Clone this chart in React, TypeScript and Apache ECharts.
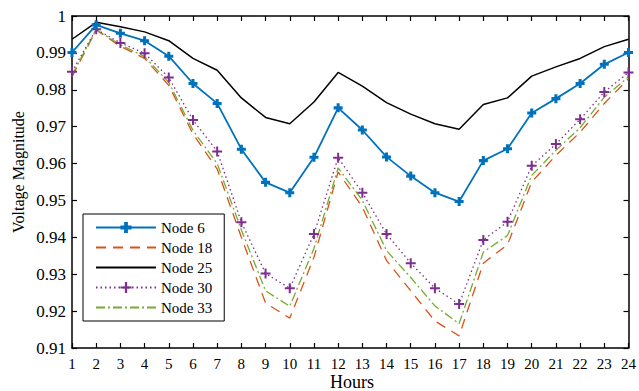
import React, { useEffect, useRef } from "react";
import * as echarts from "echarts";

const hours = [1, 2, 3, 4, 5, 6, 7, 8, 9, 10, 11, 12, 13, 14, 15, 16, 17, 18, 19, 20, 21, 22, 23, 24];
const node6 = [0.9901, 0.9976, 0.9953, 0.9933, 0.9891, 0.9817, 0.9763, 0.9639, 0.9549, 0.9521, 0.9617, 0.9751, 0.9691, 0.9618, 0.9566, 0.9521, 0.9497, 0.9608, 0.964, 0.9737, 0.9776, 0.9817, 0.9869, 0.9901];
const node18 = [0.9835, 0.9962, 0.9918, 0.9885, 0.9812, 0.968, 0.9585, 0.94, 0.9222, 0.9181, 0.9346, 0.9577, 0.9482, 0.9337, 0.9255, 0.9173, 0.9133, 0.933, 0.938, 0.955, 0.9622, 0.9685, 0.9763, 0.983];
const node25 = [0.9937, 0.9983, 0.9971, 0.9957, 0.9933, 0.9885, 0.9853, 0.9778, 0.9725, 0.9708, 0.9767, 0.9847, 0.981, 0.9765, 0.9734, 0.9708, 0.9693, 0.976, 0.9778, 0.9837, 0.9862, 0.9885, 0.9917, 0.9937];
const node30 = [0.9849, 0.9964, 0.9927, 0.9899, 0.9833, 0.9718, 0.9633, 0.9441, 0.9302, 0.9262, 0.9409, 0.9616, 0.9521, 0.9409, 0.933, 0.9262, 0.9219, 0.9393, 0.9442, 0.9594, 0.9653, 0.972, 0.9794, 0.9847];
const node33 = [0.984, 0.9963, 0.9922, 0.989, 0.982, 0.969, 0.96, 0.942, 0.9255, 0.9213, 0.937, 0.9588, 0.95, 0.9364, 0.9291, 0.9214, 0.9166, 0.936, 0.9405, 0.9568, 0.9636, 0.9697, 0.978, 0.9835];

const FONT = "Liberation Serif";
const PLUS_BOLD = "path://M33,0H67V33H100V67H67V100H33V67H0V33H33Z";
const PLUS_THIN = "path://M40,0H60V40H100V60H60V100H40V60H0V40H40Z";

const pair = (ys: number[]) => hours.map((h, i) => [h, ys[i]]);

export default function App() {
  const ref = useRef<HTMLDivElement>(null);
  useEffect(() => {
    if (!ref.current) return;
    const chart = echarts.init(ref.current, undefined, { renderer: "svg" });
    const axisLine = { show: true, lineStyle: { color: "#000", width: 1.5 } };
    const tick = { show: true, inside: true, length: 5, lineStyle: { color: "#000", width: 1.2 } };
    const hidden = { opacity: 0 };
    chart.setOption({
      animation: false,
      backgroundColor: "#fff",
      textStyle: { fontFamily: FONT },
      grid: { left: 72, right: 7, top: 16, bottom: 43, containLabel: false },
      xAxis: [
        {
          type: "value", min: 1, max: 24, interval: 1, position: "bottom",
          axisLine, axisTick: tick, splitLine: { show: false },
          axisLabel: { color: "#000", fontFamily: FONT, fontSize: 15, margin: 8 },
        },
        {
          type: "value", min: 1, max: 24, interval: 1, position: "top",
          axisLine, axisTick: tick, splitLine: { show: false }, axisLabel: { show: false },
        },
      ],
      yAxis: [
        {
          type: "value", min: 0.91, max: 1, interval: 0.01, position: "left",
          axisLine, axisTick: tick, splitLine: { show: false },
          axisLabel: {
            color: "#000", fontFamily: FONT, fontSize: 17, margin: 6,
            formatter: (v: number) => String(parseFloat(v.toFixed(2))),
          },
        },
        {
          type: "value", min: 0.91, max: 1, interval: 0.01, position: "right",
          axisLine, axisTick: tick, splitLine: { show: false }, axisLabel: { show: false },
        },
      ],
      legend: {
        orient: "vertical", left: 83, top: 214,
        backgroundColor: "#fff", borderColor: "#000", borderWidth: 1,
        padding: [6, 12, 6, 12], itemGap: 5, itemWidth: 60, itemHeight: 14,
        textStyle: { fontFamily: FONT, fontSize: 15, color: "#000" },
        data: [
          { name: "Node 6" },
          { name: "Node 18", itemStyle: hidden },
          { name: "Node 25", itemStyle: hidden },
          { name: "Node 30" },
          { name: "Node 33", itemStyle: hidden },
        ],
      },
      graphic: [
        {
          type: "text", x: 18, y: 172, rotation: Math.PI / 2,
          style: { text: "Voltage Magnitude", fontFamily: FONT, fontSize: 16, fill: "#000", align: "center", verticalAlign: "middle" },
        },
        {
          type: "text", x: 352, y: 382,
          style: { text: "Hours", fontFamily: FONT, fontSize: 18, fill: "#000", align: "center", verticalAlign: "middle" },
        },
      ],
      series: [
        {
          name: "Node 25", type: "line", data: pair(node25), symbol: "none",
          lineStyle: { color: "#000", width: 1.5 }, itemStyle: { color: "#000" }, z: 2,
        },
        {
          name: "Node 18", type: "line", data: pair(node18), symbol: "none",
          lineStyle: { color: "#D95319", width: 1.3, type: [10, 7] }, itemStyle: { color: "#D95319" }, z: 3,
        },
        {
          name: "Node 33", type: "line", data: pair(node33), symbol: "none",
          lineStyle: { color: "#77AC30", width: 1.3, type: [9, 3, 2, 3] }, itemStyle: { color: "#77AC30" }, z: 4,
        },
        {
          name: "Node 30", type: "line", data: pair(node30), symbol: PLUS_THIN, symbolSize: 10, showSymbol: true,
          lineStyle: { color: "#7E2F8E", width: 1.3, type: [1.5, 3] }, itemStyle: { color: "#7E2F8E", borderWidth: 0 }, z: 5,
        },
        {
          name: "Node 6", type: "line", data: pair(node6), symbol: PLUS_BOLD, symbolSize: 9, showSymbol: true,
          lineStyle: { color: "#0072BD", width: 1.8 }, itemStyle: { color: "#0072BD", borderWidth: 0 }, z: 6,
        },
      ],
    });
    return () => chart.dispose();
  }, []);
  return <div ref={ref} style={{ width: 639, height: 391, position: "absolute", left: 0, top: 0 }} />;
}
